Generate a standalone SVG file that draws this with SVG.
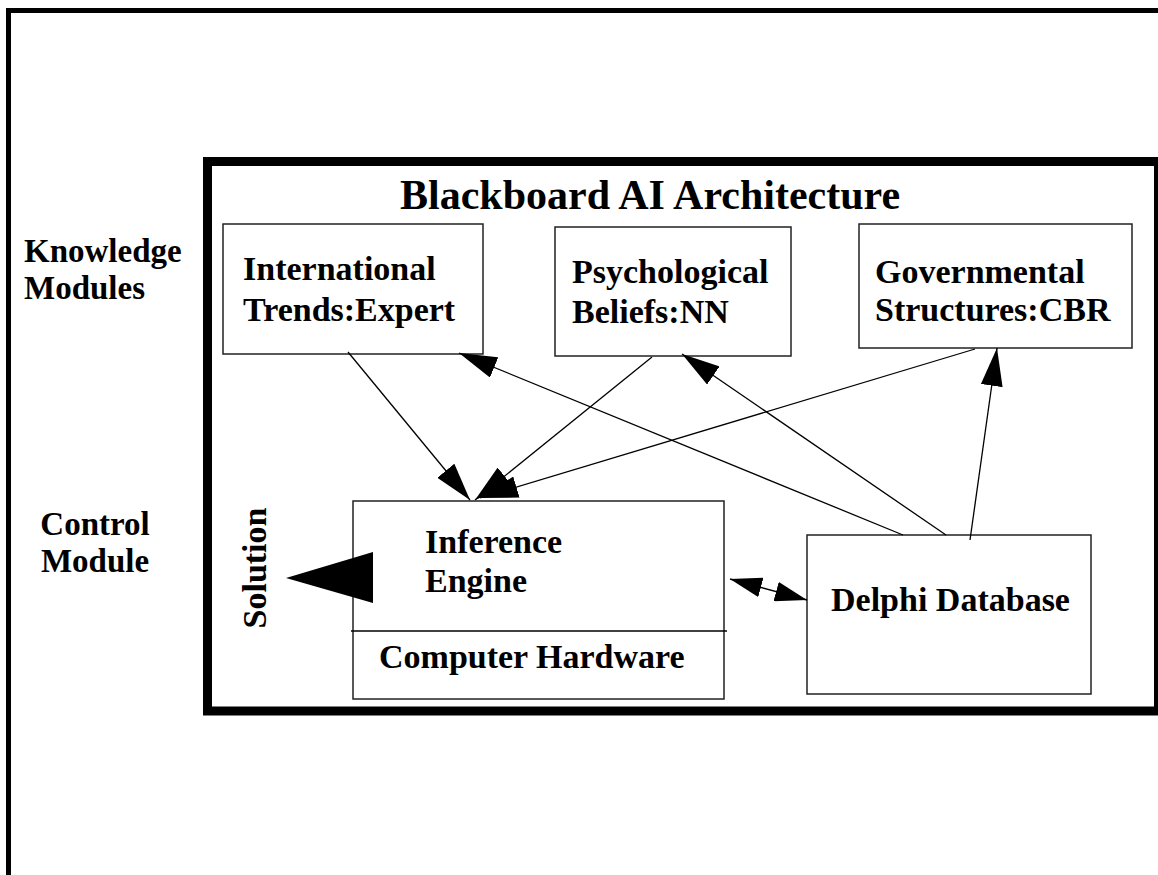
<svg xmlns="http://www.w3.org/2000/svg" width="1158" height="875" viewBox="0 0 1158 875">
<defs>
<style>
.t{font-family:"Liberation Serif","Times New Roman",serif;font-weight:bold;font-size:34px;fill:#000}
.lbl{font-size:33px}
.box{fill:#fff;stroke:#222;stroke-width:1.5}
.ln{fill:none;stroke:#000;stroke-width:1.3}
</style>
<marker id="ah" viewBox="0 0 38 22" refX="38" refY="11" markerWidth="38" markerHeight="22" markerUnits="userSpaceOnUse" orient="auto-start-reverse">
<path d="M0,0 L38,11 L0,22 Z" fill="#000"/>
</marker>
<marker id="ah2" viewBox="0 0 32 20" refX="32" refY="10" markerWidth="32" markerHeight="20" markerUnits="userSpaceOnUse" orient="auto-start-reverse">
<path d="M0,0 L32,10 L0,20 Z" fill="#000"/>
</marker>
</defs>
<rect width="1158" height="875" fill="#fff"/>
<path d="M8.5,880 V10.5 H1170" fill="none" stroke="#000" stroke-width="5"/>
<rect id="blackboard" x="207.5" y="161.5" width="951" height="549.5" fill="none" stroke="#000" stroke-width="9"/>
<text class="t" x="400" y="209" style="font-size:42px">Blackboard AI Architecture</text>
<g id="label-knowledge"><text class="t lbl" x="24" y="262">Knowledge</text><text class="t lbl" x="24" y="299">Modules</text></g>
<g id="label-control"><text class="t lbl" x="95" y="535" text-anchor="middle">Control</text><text class="t lbl" x="95" y="572" text-anchor="middle">Module</text></g>
<g id="international"><rect class="box" x="223" y="224" width="260" height="130"/><text class="t" x="243" y="280">International</text><text class="t" x="243" y="321">Trends:Expert</text></g>
<g id="psychological"><rect class="box" x="555" y="227" width="236" height="129"/><text class="t" x="572" y="283">Psychological</text><text class="t" x="572" y="323">Beliefs:NN</text></g>
<g id="governmental"><rect class="box" x="859" y="224" width="273" height="124"/><text class="t" x="875" y="283">Governmental</text><text class="t" x="875" y="321">Structures:CBR</text></g>
<g id="inference"><rect class="box" x="353" y="501" width="371" height="198"/><line x1="351" y1="631" x2="727" y2="631" stroke="#000" stroke-width="1.5"/><text class="t" x="425" y="553">Inference</text><text class="t" x="425" y="592">Engine</text><text class="t" x="379" y="668">Computer Hardware</text></g>
<g id="delphi"><rect class="box" x="807" y="535" width="284" height="159"/><text class="t" x="831" y="611">Delphi Database</text></g>
<g id="solution"><text class="t" transform="translate(266,568) rotate(-90)" text-anchor="middle">Solution</text></g>
<g id="connectors">
<line class="ln" x1="348" y1="352" x2="470" y2="500" marker-end="url(#ah)"/>
<line class="ln" x1="652" y1="357" x2="475" y2="500" marker-end="url(#ah)"/>
<line class="ln" x1="975" y1="349" x2="480" y2="498" marker-end="url(#ah)"/>
<line class="ln" x1="903" y1="535" x2="459" y2="353" marker-end="url(#ah)"/>
<line class="ln" x1="946" y1="535" x2="682" y2="354" marker-end="url(#ah)"/>
<line class="ln" x1="970" y1="540" x2="997" y2="348" marker-end="url(#ah)"/>
<line class="ln" x1="730" y1="579" x2="807" y2="600" marker-start="url(#ah2)" marker-end="url(#ah2)"/>
<polygon points="286,578 373,552 373,603" fill="#000"/>
</g>
</svg>
